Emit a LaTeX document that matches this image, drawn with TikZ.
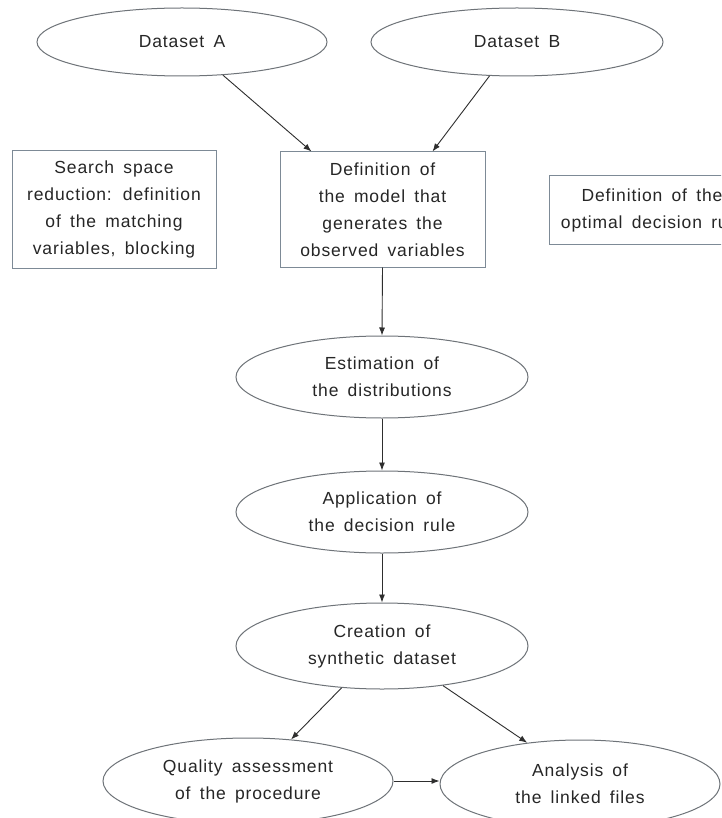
\documentclass[tikz,border=0pt]{standalone}
\usepackage{fontspec}
\setmainfont{Liberation Sans}[LetterSpace=5,WordSpace=1.6]
\usetikzlibrary{shapes.geometric,arrows.meta}
\definecolor{ln}{HTML}{6E7378}
\definecolor{bx}{HTML}{7D8A96}
\definecolor{ar}{HTML}{2E2E2E}
\definecolor{tx}{HTML}{262626}
\begin{document}
\begin{tikzpicture}[x=1pt,y=-1pt,
  txt/.style={text=tx, align=center, font=\fontsize{17.5}{27}\selectfont},
  ell/.style={txt, ellipse, draw=ln, line width=1pt, inner sep=0pt},
  box/.style={txt, rectangle, draw=bx, line width=1pt, inner sep=0pt},
  arr/.style={draw=ar, line width=0.9pt, -{Latex[length=8pt,width=6pt]}}]
\useasboundingbox (0,0) rectangle (721,818);
\clip (0,0) rectangle (721,818);
\fill[white] (0,0) rectangle (721,818);

\node[ell, minimum width=290pt, minimum height=68pt] (A) at (182,42) {Dataset A};
\node[ell, minimum width=292pt, minimum height=68pt] (B) at (517,42) {Dataset B};

\node[box, minimum width=204pt, minimum height=117pt] (S) at (114,209.5)
  {Search space\\reduction: definition\\of the matching\\variables, blocking};
\node[box, minimum width=205pt, minimum height=115pt] (D) at (382.5,209.5)
  {Definition of\\the model that\\generates the\\observed variables};
\node[box, minimum width=206pt, minimum height=68pt] (R) at (652,210)
  {Definition of the\\optimal decision rule};

\node[ell, minimum width=292pt, minimum height=82pt] (E) at (382,377) {Estimation of\\the distributions};
\node[ell, minimum width=292pt, minimum height=82pt] (P) at (382,512) {Application of\\the decision rule};
\node[ell, minimum width=292pt, minimum height=86pt] (C) at (382,646) {Creation of\\synthetic dataset};
\node[ell, minimum width=290pt, minimum height=86pt] (Q) at (248,781) {Quality assessment\\of the procedure};
\node[ell, minimum width=280pt, minimum height=88pt] (N) at (580,784) {Analysis of\\the linked files};

\draw[arr] (A.-39.5) -- ([xshift=32pt]D.north west);
\draw[arr] (B.-129) -- ([xshift=153pt]D.north west);
\draw[arr] (D.south) -- (E.north);
\draw[arr] (E.south) -- (P.north);
\draw[arr] (P.south) -- (C.north);
\draw[arr] (C.-134) -- (Q.44);
\draw[arr] (C.-33) -- (N.142);
\draw[arr] (Q.east) -- (Q.east -| N.west);
\end{tikzpicture}
\end{document}
